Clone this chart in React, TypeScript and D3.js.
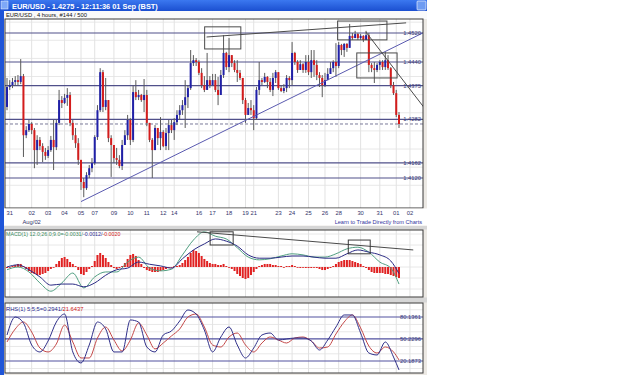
import React from "react";
import * as d3 from "d3";

// EUR/USD 4h bars (open of each bar = previous close)
const firstOpen = 1.4316;
const closes = [
  1.4371, 1.4376, 1.4385, 1.439, 1.4385, 1.4401, 1.4238, 1.4252, 1.4269, 1.4252,
  1.4197, 1.4225, 1.4208, 1.4192, 1.4181, 1.4197, 1.4225, 1.4205, 1.4272, 1.4335,
  1.4327, 1.4341, 1.4349, 1.4272, 1.4238, 1.4216, 1.417, 1.4109, 1.4092, 1.4128,
  1.4147, 1.4161, 1.4233, 1.4307, 1.4412, 1.4316, 1.4335, 1.423, 1.4211, 1.4175,
  1.417, 1.4153, 1.4211, 1.4238, 1.428, 1.4225, 1.4357, 1.4343, 1.4349, 1.4335,
  1.4349, 1.4272, 1.4225, 1.4197, 1.4258, 1.423, 1.4247, 1.4208, 1.4244, 1.4266,
  1.4252, 1.4274, 1.4294, 1.4307, 1.4321, 1.4343, 1.4368, 1.4437, 1.4445, 1.444,
  1.441, 1.4376, 1.4363, 1.439, 1.4376, 1.439, 1.4363, 1.4349, 1.4404, 1.4465,
  1.4426, 1.4459, 1.4437, 1.4418, 1.441, 1.4396, 1.4335, 1.4294, 1.4313, 1.4307,
  1.4285, 1.4363, 1.439, 1.4385, 1.4399, 1.4385, 1.4363, 1.4396, 1.4412, 1.4368,
  1.436, 1.4368, 1.4396, 1.439, 1.4465, 1.444, 1.4418, 1.4434, 1.4418, 1.444,
  1.4412, 1.4445, 1.4432, 1.4404, 1.4396, 1.4376, 1.439, 1.4407, 1.4423, 1.444,
  1.4429, 1.4487, 1.4473, 1.449, 1.4479, 1.4512, 1.4506, 1.4517, 1.4506, 1.4512,
  1.4501, 1.4514, 1.4432, 1.4423, 1.4418, 1.4432, 1.444, 1.4426, 1.4445, 1.4423,
  1.4376, 1.4354, 1.4294, 1.4269,
];
const highs = [
  1.4396, 1.439, 1.4396, 1.4401, 1.4404, 1.4448, 1.4407, 1.4263, 1.428, 1.4274,
  1.4258, 1.4238, 1.4233, 1.4216, 1.4203, 1.4208, 1.4236, 1.428, 1.428, 1.4363,
  1.4346, 1.4352, 1.4368, 1.4357, 1.428, 1.4258, 1.423, 1.4164, 1.412, 1.4136,
  1.4156, 1.4175, 1.4238, 1.4321, 1.4423, 1.4418, 1.4396, 1.4335, 1.4238, 1.4211,
  1.4203, 1.4183, 1.4225, 1.4252, 1.4294, 1.4285, 1.4376, 1.439, 1.4363, 1.4352,
  1.4393, 1.4363, 1.4266, 1.423, 1.4266, 1.4258, 1.4288, 1.4252, 1.4258, 1.428,
  1.428, 1.4285, 1.4307, 1.4321, 1.4335, 1.439, 1.4376, 1.4473, 1.4459, 1.4451,
  1.4445, 1.4423, 1.4401, 1.4465, 1.4401, 1.4407, 1.4407, 1.4399, 1.4418, 1.4514,
  1.4468, 1.4506, 1.4459, 1.4445, 1.4445, 1.4418, 1.4396, 1.4341, 1.4327, 1.4335,
  1.4321, 1.4371, 1.444, 1.4396, 1.441, 1.4401, 1.4396, 1.441, 1.4418, 1.4412,
  1.4376, 1.4379, 1.4404, 1.4401, 1.4495, 1.4468, 1.4445, 1.4445, 1.4437, 1.4459,
  1.4459, 1.4473, 1.4473, 1.4445, 1.4412, 1.4404, 1.441, 1.4423, 1.444, 1.4445,
  1.4492, 1.4495, 1.449, 1.4492, 1.4492, 1.4545, 1.452, 1.4526, 1.452, 1.4517,
  1.4514, 1.4526, 1.452, 1.4437, 1.444, 1.4437, 1.4445, 1.4445, 1.4468, 1.4459,
  1.4426, 1.4385, 1.4363, 1.4302,
];
const lows = [
  1.4307, 1.4363, 1.4368, 1.4374, 1.4374, 1.4379, 1.4178, 1.423, 1.4247, 1.4241,
  1.4147, 1.4156, 1.4197, 1.4164, 1.417, 1.4175, 1.4192, 1.4142, 1.4197, 1.4266,
  1.4313, 1.4324, 1.4319, 1.4263, 1.4225, 1.4203, 1.4156, 1.4087, 1.4067, 1.4087,
  1.412, 1.4136, 1.4156, 1.4225, 1.4302, 1.4302, 1.4307, 1.4219, 1.4123, 1.4161,
  1.4156, 1.4147, 1.4142, 1.4219, 1.4225, 1.4211, 1.4219, 1.4335, 1.4335, 1.433,
  1.4302, 1.4263, 1.4219, 1.412, 1.4197, 1.4211, 1.4197, 1.4205, 1.4197, 1.4197,
  1.4244, 1.4225, 1.4266, 1.428, 1.4294, 1.4258, 1.4313, 1.4363, 1.4429, 1.4429,
  1.4404, 1.4368, 1.4357, 1.4363, 1.4368, 1.4382, 1.4357, 1.4321, 1.439, 1.4396,
  1.4418, 1.4412, 1.4426, 1.4412, 1.4385, 1.439, 1.4324, 1.4272, 1.4302, 1.4294,
  1.4252, 1.428, 1.4349, 1.4376, 1.4382, 1.4368, 1.4357, 1.4346, 1.4382, 1.4363,
  1.4357, 1.4354, 1.4357, 1.4368, 1.4376, 1.4432, 1.441, 1.4418, 1.441, 1.441,
  1.4404, 1.4396, 1.4399, 1.439, 1.4371, 1.4343, 1.4371, 1.4396, 1.4412, 1.4412,
  1.4399, 1.4423, 1.4459, 1.4454, 1.4468, 1.4487, 1.4501, 1.4512, 1.4501, 1.4501,
  1.4495, 1.4506, 1.4412, 1.4412, 1.4382, 1.4412, 1.4418, 1.4418, 1.4418, 1.4418,
  1.4368, 1.4349, 1.4288, 1.4258,
];

const levels = [1.452, 1.444, 1.4375, 1.4282, 1.4162, 1.412];
const levelLabels = ["1.4520", "1.4440", "1.4375", "1.4282", "1.4162", "1.4120"];

const dateLabels = ["31", "02", "03", "04", "05", "07", "09", "10", "11", "12", "14", "16", "17",
  "18", "19", "21", "23", "24", "25", "26", "28", "30", "31", "01", "02"];
const dateBars = [1, 9, 15, 21, 27, 32, 39, 45, 51, 57, 61, 70, 75, 81, 87, 90, 99, 104, 110, 116,
  121, 129, 136, 142, 147];

// drawn objects, in (bar, price) terms
const trendLines = [
  { a: [27, 1.4055], b: [153, 1.4525], color: "#5a5ab0" },
  { a: [72.8, 1.4509], b: [145.6, 1.4548], color: "#4a4a4a" },
  { a: [130.9, 1.4523], b: [153.7, 1.4299], color: "#4a4a4a" },
];
const boxes = [
  { b0: 72.1, b1: 85.3, p0: 1.4537, p1: 1.4476 },
  { b0: 120.6, b1: 138.6, p0: 1.4553, p1: 1.4501 },
  { b0: 127.6, b1: 142.3, p0: 1.4465, p1: 1.4396 },
];

// MACD
const macdBars = d3.range(0, 141, 4).concat([143]);
const macdLine = [-0.0005, 0, -0.0009, -0.0029, -0.0044, -0.0029, -0.0011, -0.0038, -0.0018, -0.0009,
  -0.0009, 0.0009, 0.0018, -0.0002, -0.0007, -0.0004, 0.0022, 0.0049, 0.0064, 0.0056, 0.0051, 0.0035,
  0.0018, 0.0013, 0.0015, 0.002, 0.0024, 0.0022, 0.0018, 0.0018, 0.0024, 0.0033, 0.0036, 0.0027,
  0.0009, -0.0002, -0.0031];
const signalLine = [0, 0.0004, -0.0005, -0.0018, -0.0033, -0.0031, -0.0031, -0.0036, -0.0029, -0.0015,
  -0.0005, -0.0002, 0.0009, 0.0005, 0.0002, -0.0002, 0.0015, 0.0031, 0.0042, 0.0051, 0.0047, 0.0038,
  0.0022, 0.0016, 0.0016, 0.0018, 0.002, 0.002, 0.0018, 0.0016, 0.0016, 0.0024, 0.0031, 0.0027,
  0.0022, 0.0011, -0.0012];
const histogram = [
  -0.00018, 0, 0.00018, 0.00036, 0.00055, 0.00055, 0.00018, -0.00036, -0.00073, -0.00109,
  -0.00127, -0.00146, -0.00146, -0.00127, -0.00109, -0.00073, -0.00036, 0, 0.00055, 0.00109,
  0.00164, 0.00182, 0.00146, 0.00091, 0.00055, 0.00018, -0.00055, -0.00127, -0.00146, -0.00091,
  -0.00036, 0.00018, 0.00109, 0.00218, 0.00255, 0.00218, 0.00164, 0.00091, 0.00036, -0.00018,
  -0.00036, -0.00018, 0.00018, 0.00073, 0.00146, 0.00218, 0.00237, 0.002, 0.00127, 0.00055,
  -0.00018, -0.00055, -0.00073, -0.00091, -0.00091, -0.00091, -0.00073, -0.00055, -0.00036, -0.00018,
  0, 0.00018, 0.00018, 0.00036, 0.00073, 0.00127, 0.00182, 0.00255, 0.00309, 0.00291,
  0.00255, 0.002, 0.00146, 0.00109, 0.00073, 0.00055, 0.00055, 0.00036, 0.00036, 0.00055,
  0.00018, 0, -0.00036, -0.00073, -0.00127, -0.00164, -0.002, -0.00218, -0.002, -0.00146,
  -0.00091, -0.00036, 0.00018, 0.00036, 0.00055, 0.00055, 0.00055, 0.00036, 0.00036, 0.00018,
  0.00018, 0, 0.00018, 0.00018, 0.00036, 0.00018, 0, -0.00018, 0, -0.00018,
  -0.00018, -0.00018, 0, -0.00018, -0.00036, -0.00055, -0.00055, -0.00036, -0.00018, 0.00018,
  0.00055, 0.00091, 0.00109, 0.00127, 0.00127, 0.00127, 0.00109, 0.00091, 0.00073, 0.00055,
  0.00018, -0.00018, -0.00055, -0.00091, -0.00109, -0.00109, -0.00109, -0.00109, -0.00127, -0.00127,
  -0.00146, -0.00164, -0.00182, -0.002,
];
const macdTrend = { a: [69.3, 0.0064], b: [148.2, 0.0031] };
const macdBoxes = [
  { b0: 74.1, b1: 82.5, p0: 0.0064, p1: 0.004 },
  { b0: 124.5, b1: 132.5, p0: 0.0049, p1: 0.0024 },
];

// stochastic
const stochBars = d3.range(0, 142, 3).concat([143]);
const stochK = [55.6, 80.1, 72.0, 42.0, 32.5, 47.5, 73.3, 84.2, 32.5, 17.5, 42.0, 73.3, 63.8, 32.5,
  32.5, 76.1, 73.3, 39.3, 32.5, 55.6, 61.1, 74.7, 89.7, 84.2, 62.4, 32.5, 52.9, 66.5, 42.0, 24.3,
  37.9, 55.6, 58.3, 48.8, 50.2, 51.5, 51.5, 47.5, 35.2, 48.8, 66.5, 82.9, 82.9, 58.3, 31.1, 28.4,
  46.1, 25.6, 8.0];
const stochD = [46.1, 63.8, 73.3, 59.7, 37.9, 32.5, 43.4, 69.2, 46.1, 24.3, 24.3, 51.5, 66.5, 48.8,
  33.8, 48.8, 72.0, 55.6, 36.6, 44.7, 54.3, 63.8, 80.1, 84.2, 66.5, 42.0, 39.3, 52.9, 58.3, 42.0,
  32.5, 44.7, 52.9, 48.8, 44.7, 51.5, 52.9, 47.5, 37.9, 39.3, 57.0, 73.3, 82.9, 65.2, 40.6, 31.1,
  39.3, 32.5, 21.6];
const stochLevels = [80.1361, 50.2296, 20.1873];

const FONT = "Liberation Sans, Arial, sans-serif";
const PL = 5;
const PR = 423;

export default function App() {
  const x = d3.scaleLinear().domain([0, 143]).range([7, 399]);
  const yP = d3.scaleLinear().domain([1.412, 1.452]).range([178, 33]);
  const yM = d3.scaleLinear().domain([-0.005, 0.005]).range([294.5, 239.5]);
  const yS = d3.scaleLinear().domain([20.1873, 80.1361]).range([361, 317]);

  const main = { top: 19, bottom: 208 };
  const macdP = { top: 230, bottom: 297 };
  const stoP = { top: 303, bottom: 373 };

  const candles = closes.map((c, i) => {
    const o = i === 0 ? firstOpen : closes[i - 1];
    return { i, o, c, h: Math.max(highs[i], o, c), l: Math.min(lows[i], o, c) };
  });

  const lineM = d3.line<number>().x((_, k) => x(macdBars[k])).curve(d3.curveMonotoneX);
  const lineS = d3.line<number>().x((_, k) => x(stochBars[k])).curve(d3.curveMonotoneX);

  const hGrid = (y: d3.ScaleLinear<number, number>, vals: number[]) =>
    vals.map((v, k) => (
      <line key={"h" + k} x1={PL} x2={PR} y1={y(v)} y2={y(v)} stroke="#e8e8e8" strokeWidth={1} />
    ));
  const vGrid = (top: number, bottom: number) =>
    dateBars.map((b, k) => (
      <line key={"v" + k} x1={x(b)} x2={x(b)} y1={top} y2={bottom} stroke="#e2e2e2" strokeWidth={1} />
    ));

  const lastClose = closes[closes.length - 1];

  return (
    <svg width={625} height={375} style={{ position: "absolute", left: 0, top: 0, background: "#fff" }}
      fontFamily={FONT}>
      <defs>
        <clipPath id="cMain"><rect x={PL} y={main.top} width={PR - PL} height={main.bottom - main.top} /></clipPath>
        <clipPath id="cMacd"><rect x={PL} y={macdP.top} width={PR - PL} height={macdP.bottom - macdP.top} /></clipPath>
        <clipPath id="cSto"><rect x={PL} y={stoP.top} width={PR - PL} height={stoP.bottom - stoP.top} /></clipPath>
        <linearGradient id="title" x1="0" x2="0" y1="0" y2="1">
          <stop offset="0" stopColor="#3b78f0" />
          <stop offset="1" stopColor="#1b4fd0" />
        </linearGradient>
      </defs>

      {/* window frame */}
      <rect x={0} y={0} width={427} height={375} fill="#ece9e4" />
      <rect x={0} y={0} width={427} height={11} fill="url(#title)" />
      <rect x={0} y={0} width={4} height={375} fill="#1f55d8" />
      <rect x={1} y={1} width={7} height={8} fill="#7ea8f8" stroke="#fff" strokeWidth={0.5} />
      <text x={12} y={8.5} fill="#fff" fontSize={7.4} fontWeight="bold">EUR/USD - 1.4275 - 12:11:36  01 Sep (BST)</text>
      <rect x={417} y={1} width={9} height={9} fill="#6f9cf2" stroke="#fff" strokeWidth={0.6} rx={1} />
      <rect x={4} y={11} width={423} height={8} fill="#fafafa" />
      <text x={6} y={17.3} fontSize={5.8} fill="#111">EUR/USD , 4 hours, #144 / 500</text>

      {/* main price panel */}
      <rect x={PL} y={main.top} width={PR - PL} height={main.bottom - main.top} fill="#fff" />
      <g clipPath="url(#cMain)">
        {hGrid(yP, [1.41, 1.415, 1.42, 1.425, 1.43, 1.435, 1.44, 1.445, 1.45, 1.455])}
        {vGrid(main.top, main.bottom)}
        {levels.map((v, k) => (
          <line key={k} x1={PL} x2={PR} y1={yP(v)} y2={yP(v)} stroke="#50508a" strokeWidth={1.2} />
        ))}
        <line x1={PL} x2={PR} y1={yP(lastClose)} y2={yP(lastClose)} stroke="#7a7a98"
          strokeWidth={1} strokeDasharray="3,2" />
        {candles.map((d) => {
          const up = d.c >= d.o;
          const col = up ? "#2020a8" : "#d41c1c";
          const yt = yP(Math.max(d.o, d.c));
          const yb = yP(Math.min(d.o, d.c));
          return (
            <g key={d.i}>
              <line x1={x(d.i)} x2={x(d.i)} y1={yP(d.h)} y2={yP(d.l)} stroke="#5a5a5a" strokeWidth={1} />
              <rect x={x(d.i) - 1} y={yt} width={2} height={Math.max(1, yb - yt)} fill={col} />
            </g>
          );
        })}
        {trendLines.map((t, k) => (
          <line key={k} x1={x(t.a[0])} y1={yP(t.a[1])} x2={x(t.b[0])} y2={yP(t.b[1])}
            stroke={t.color} strokeWidth={1} />
        ))}
        {boxes.map((b, k) => (
          <rect key={k} x={x(b.b0)} y={yP(b.p0)} width={x(b.b1) - x(b.b0)} height={yP(b.p1) - yP(b.p0)}
            fill="none" stroke="#4a4a4a" strokeWidth={1} />
        ))}
      </g>
      {levels.map((v, k) => (
        <text key={k} x={421} y={yP(v) + 2} textAnchor="end" fontSize={5.8} fill="#3a3a78">{levelLabels[k]}</text>
      ))}
      <rect x={PL} y={main.top} width={PR - PL} height={main.bottom - main.top} fill="none" stroke="#3a3a3a" />

      {/* date axis */}
      <rect x={4} y={main.bottom + 0.5} width={423} height={17} fill="#fff" />
      {dateLabels.map((t, k) => (
        <text key={k} x={x(dateBars[k])} y={215} textAnchor="middle" fontSize={5.8} fill="#33336a">{t}</text>
      ))}
      <text x={x(dateBars[1])} y={223.5} textAnchor="middle" fontSize={5.8} fill="#33336a">Aug/02</text>
      <text x={422} y={223.5} textAnchor="end" fontSize={5.6} fill="#3333a0">Learn to Trade Directly from Charts</text>
      <rect x={4} y={226} width={423} height={3.5} fill="#d6d6d6" />
      <rect x={4} y={297.5} width={423} height={5} fill="#d6d6d6" />

      {/* MACD panel */}
      <rect x={PL} y={macdP.top} width={PR - PL} height={macdP.bottom - macdP.top} fill="#fff" />
      <g clipPath="url(#cMacd)">
        {hGrid(yM, [-0.004, -0.002, 0, 0.002, 0.004, 0.006])}
        {vGrid(macdP.top, macdP.bottom)}
        {histogram.map((v, i) => (
          <rect key={i} x={x(i) - 1} width={2} y={Math.min(yM(v), yM(0))}
            height={Math.max(0.8, Math.abs(yM(v) - yM(0)))} fill="#e02222" />
        ))}
        <path d={lineM.y((v) => yM(v))(macdLine) || ""} fill="none" stroke="#4f9e80" strokeWidth={1} />
        <path d={lineM.y((v) => yM(v))(signalLine) || ""} fill="none" stroke="#2a2a84" strokeWidth={1} />
        <line x1={x(macdTrend.a[0])} y1={yM(macdTrend.a[1])} x2={x(macdTrend.b[0])} y2={yM(macdTrend.b[1])}
          stroke="#4a4a4a" strokeWidth={1} />
        {macdBoxes.map((b, k) => (
          <rect key={k} x={x(b.b0)} y={yM(b.p0)} width={x(b.b1) - x(b.b0)} height={yM(b.p1) - yM(b.p0)}
            fill="none" stroke="#3a3a3a" strokeWidth={1} />
        ))}
      </g>
      <text x={6} y={236} fontSize={5.3}>
        <tspan fill="#3a8a60">MACD(1) 12.0;26.0;9.0=-0.0031/</tspan>
        <tspan fill="#2a2a90">-0.0012/</tspan>
        <tspan fill="#d02020">-0.0020</tspan>
      </text>
      <rect x={PL} y={macdP.top} width={PR - PL} height={macdP.bottom - macdP.top} fill="none" stroke="#3a3a3a" />

      {/* stochastic panel */}
      <rect x={PL} y={stoP.top} width={PR - PL} height={stoP.bottom - stoP.top} fill="#fff" />
      <g clipPath="url(#cSto)">
        {hGrid(yS, [10, 30, 40, 60, 70, 90])}
        {vGrid(stoP.top, stoP.bottom)}
        {stochLevels.map((v, k) => (
          <line key={k} x1={PL} x2={PR} y1={yS(v)} y2={yS(v)} stroke="#5252a0" strokeWidth={1.2} />
        ))}
        <path d={lineS.y((v) => yS(v))(stochD) || ""} fill="none" stroke="#c44848" strokeWidth={1} />
        <path d={lineS.y((v) => yS(v))(stochK) || ""} fill="none" stroke="#30308a" strokeWidth={1} />
      </g>
      {stochLevels.map((v, k) => (
        <text key={k} x={421} y={yS(v) + 2} textAnchor="end" fontSize={5.8} fill="#3a3a78">{v.toFixed(4)}</text>
      ))}
      <text x={6} y={310.5} fontSize={5.8}>
        <tspan fill="#2a2a90">RHS(1) 5;5;5=0.2941/</tspan>
        <tspan fill="#d02020">21.6437</tspan>
      </text>
      <rect x={PL} y={stoP.top} width={PR - PL} height={stoP.bottom - stoP.top} fill="none" stroke="#3a3a3a" />
    </svg>
  );
}
